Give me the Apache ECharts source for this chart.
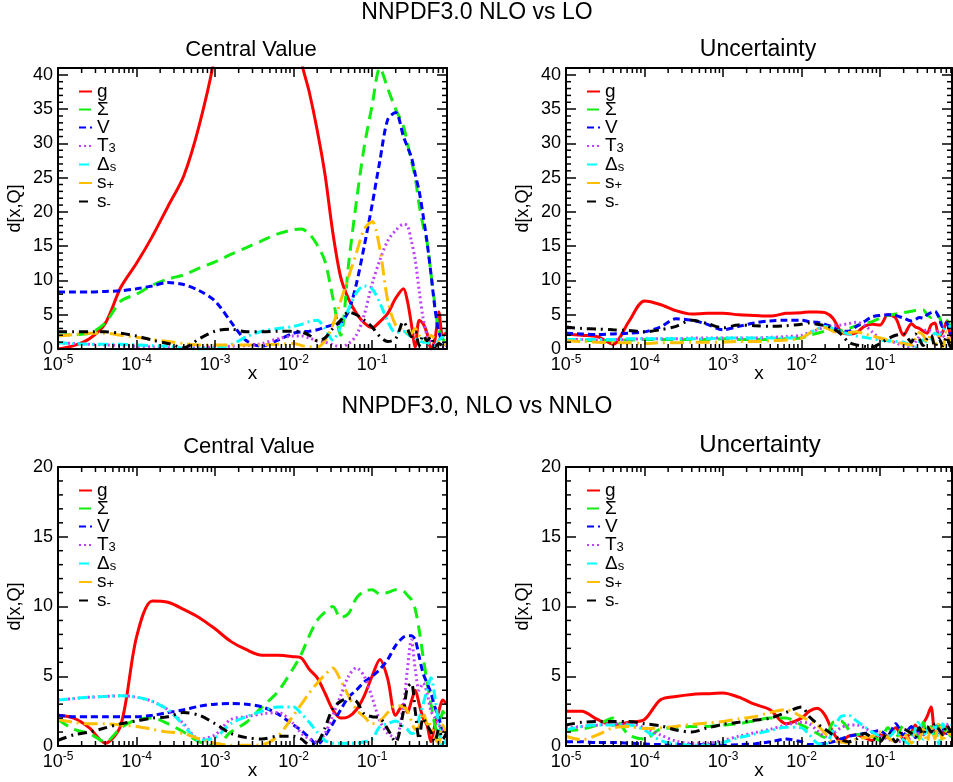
<!DOCTYPE html>
<html><head><meta charset="utf-8">
<script src="https://cdn.jsdelivr.net/npm/echarts@6/dist/echarts.min.js"></script>
<style>html,body{margin:0;padding:0;background:#fff}#c{width:953px;height:782px}</style>
</head><body><div id="c"></div>
<script>
// shared x grid (log-spaced sample points)
const X = [1e-5,1.585e-5,2.512e-5,3.981e-5,6.31e-5,1e-4,1.585e-4,2.512e-4,3.981e-4,6.31e-4,1e-3,1.585e-3,2.512e-3,3.981e-3,6.31e-3,0.01,0.01259,0.01585,0.01995,0.02512,0.03162,0.03981,0.05012,0.0631,0.07943,0.1,0.1259,0.1585,0.1995,0.2512,0.2818,0.3162,0.3548,0.3981,0.4467,0.5012,0.5623,0.631,0.7079,0.7943,0.8913];

// NNPDF3.0 NLO vs LO — Central Value
const LO_CV_g     = [0,0.5,1.5,3.7,9,12.5,16.4,20.8,25.2,32.7,43,60,70,75,70,52,42,37.5,32,25.5,17,10.5,7.3,5.2,3.8,3.1,4,5.2,7.4,8.8,7,3.7,0.3,4.2,3.7,2.3,0,1.3,5.4,1.8,2.5];
const LO_CV_Sigma = [2.0,2.1,2.3,3.8,7,8,9.3,10.2,10.8,11.8,12.7,13.8,14.8,15.8,16.8,17.4,17.5,16.8,15.2,12.8,7.5,2.0,12.3,21.5,29.5,35.5,41,38,35,32.5,30,27.5,25,21,18,15.6,11,6.5,2.8,1.5,1.0];
const LO_CV_V     = [8.3,8.3,8.3,8.4,8.5,8.8,9.2,9.7,9.4,8.5,7.0,4.0,1.2,0.4,1.3,2.3,2.5,2.6,2.8,3.2,3.5,3.8,5.5,9.5,15,21,27.5,33.5,34.5,31,29.5,28,25.5,23,19.5,15.6,11,6,2.5,1.0,0.5];
const LO_CV_T3    = [0.9,0.8,0.7,0.6,0.5,0.4,0.3,0.2,0.1,0.2,0.3,0.4,0.5,0.8,1.5,1.9,1.9,1.6,1.2,1.0,0.6,0.3,0.8,2.0,5.0,9.5,13,15.8,17.3,18.2,18.0,15.8,13,8.5,4.5,2,1.0,0.5,0.4,0.3,0.3];
const LO_CV_Ds    = [0.9,0.8,0.7,0.7,0.7,0.6,0.5,0.4,0.1,0.0,0.1,0.6,1.8,2.6,3.0,3.3,3.6,4.0,4.2,3.0,1.3,3.3,5.8,8.2,9.2,8.8,6.7,4.0,2.4,2.6,2.2,1.8,1.5,1.2,1.0,1.0,0.6,0.4,1.3,1.8,2.8];
const LO_CV_sp    = [1.9,2.1,2.3,2.3,2.0,1.7,1.4,1.1,0.8,0.6,0.6,0.6,0.6,0.6,0.7,0.8,0.5,0.3,0.3,1.2,3.5,7.0,10.5,14,17.5,18.6,14.5,7.0,3.5,2.8,2.5,2.3,3.0,2.0,1.5,1.2,2.0,1.5,1.0,0.8,0.6];
const LO_CV_sm    = [2.5,2.5,2.5,2.5,2.3,1.9,1.3,0.8,0.2,1.5,2.6,2.9,2.5,2.5,2.6,2.6,2.5,2.0,1.2,1.6,3.0,4.2,5.4,5.0,4.2,3.2,1.8,1.1,1.5,4.0,3.0,1.8,2.5,0.5,2.0,1.2,1.8,0.3,0.8,0.5,1.0];

// NNPDF3.0 NLO vs LO — Uncertainty
const LO_UN_g     = [2.2,2.0,1.8,0.7,4.0,7.0,6.5,5.6,5.1,5.2,5.2,5.0,4.9,4.8,5.2,5.3,5.4,5.4,5.3,4.5,2.6,2.2,2.4,3.3,3.6,3.5,5.0,4.5,2.0,3.7,3.2,3.0,2.6,2.3,3.5,3.8,1.8,2.5,4.0,2.0,1.5];
const LO_UN_Sigma = [1.3,1.3,1.2,1.3,1.3,1.4,1.4,1.4,1.4,1.4,1.5,1.4,1.4,1.4,1.5,1.6,2.0,2.3,2.6,2.7,2.7,3.0,3.4,3.7,4.0,4.5,4.9,5.1,5.3,5.5,5.6,5.6,5.7,5.0,4.6,5.2,4.8,3.5,4.2,3.2,2.5];
const LO_UN_V     = [2.3,2.2,2.1,2.2,2.3,2.5,3.2,4.4,4.2,3.6,2.8,3.3,3.8,4.1,4.2,4.2,4.0,3.9,3.6,3.2,2.6,2.6,3.3,4.0,4.7,4.9,5.0,4.9,4.5,4.1,4.3,4.6,4.5,5.0,5.3,5.5,4.6,3.2,3.8,2.2,2.5];
const LO_UN_T3    = [1.4,1.4,1.3,1.4,1.4,1.5,1.5,1.5,1.6,1.6,1.6,1.6,1.6,1.7,1.8,2.0,2.4,2.8,3.2,3.4,3.5,3.7,3.9,3.5,2.5,1.5,1.2,0.9,0.5,0.3,1.0,1.8,2.5,2.8,2.6,2.2,2.8,2.0,1.5,2.0,1.2];
const LO_UN_Ds    = [1.4,1.4,1.4,1.4,1.5,1.5,1.5,1.5,1.5,1.5,1.6,1.6,1.6,1.6,1.6,1.7,2.3,2.9,3.3,3.0,2.5,2.2,1.9,1.7,1.5,1.3,1.2,1.1,1.0,0.4,0.3,1.0,1.3,1.0,1.5,2.3,2.0,2.8,3.2,3.3,3.0];
const LO_UN_sp    = [1.2,1.1,1.0,0.9,0.9,0.8,0.9,0.9,1.0,1.0,1.0,1.1,1.1,1.2,1.3,1.6,2.3,2.9,3.1,2.6,2.3,2.4,2.5,2.2,1.9,1.6,1.3,1.0,0.8,0.6,1.5,2.4,2.0,1.0,2.2,0.5,1.8,0.3,2.5,1.0,2.2];
const LO_UN_sm    = [3.2,3.0,2.9,2.8,2.7,2.5,2.8,3.3,4.2,3.7,3.1,3.5,3.4,3.3,3.4,3.6,3.8,3.6,3.4,3.0,2.2,1.0,0.6,0.4,0.3,0.8,1.5,2.0,2.2,1.0,2.2,1.5,0.5,1.5,2.0,0.3,1.5,0.5,1.8,0.3,0.8];

// NNPDF3.0, NLO vs NNLO — Central Value
const NN_CV_g     = [2.2,2.0,1.3,0.2,1.5,7.8,10.4,10.3,9.8,9.2,8.4,7.5,6.9,6.5,6.5,6.4,6.3,5.5,4.9,3.8,2.6,2.0,2.1,2.6,3.6,5.0,6.2,4.8,2.2,3.0,2.4,3.2,4.0,3.0,2.0,1.5,0.3,1.5,2.5,3.3,3.0];
const NN_CV_Sigma = [1.9,1.2,0.9,0.3,1.3,1.9,2.0,1.6,1.0,0.3,0.0,1.0,1.7,2.8,3.9,5.6,6.6,7.9,9.0,9.6,10.0,9.2,9.5,10.6,11.1,11.2,10.9,11.0,11.2,11.1,10.8,10.5,9.8,8.3,6.4,4.6,3.0,1.5,0.6,2.5,2.0];
const NN_CV_V     = [2.2,2.1,2.1,2.1,2.1,2.1,2.2,2.4,2.6,2.85,3.0,3.05,3.0,2.8,2.3,1.5,1.1,0.6,0.1,0.7,1.6,2.6,3.5,4.0,4.6,5.0,5.5,6.2,7.2,7.8,7.9,7.9,7.6,6.4,5.2,4.5,3.8,2.8,2.0,1.2,1.0];
const NN_CV_T3    = [3.3,3.4,3.5,3.55,3.6,3.5,3.2,2.6,1.6,0.5,0.8,1.9,2.1,2.3,2.4,1.6,0.9,0.5,0.3,0.9,2.2,3.6,5.0,5.6,5.0,3.5,1.8,0.9,0.6,3.0,5.5,7.6,5.5,4.0,4.5,3.8,2.5,2.0,1.5,1.2,1.0];
const NN_CV_Ds    = [3.3,3.4,3.5,3.55,3.6,3.5,3.2,2.6,1.5,0.4,0.6,1.6,2.1,2.5,2.8,2.8,2.3,1.7,1.0,0.4,0.2,0.2,0.2,0.2,0.3,0.5,1.4,1.6,1.8,1.4,1.2,0.9,1.0,2.0,3.0,4.0,4.9,3.5,1.5,0.0,0.5];
const NN_CV_sp    = [1.9,1.7,1.6,1.6,1.5,1.4,1.2,1.0,0.9,0.5,0.2,0.05,0.05,0.1,0.7,2.2,3.0,3.8,4.5,5.1,5.6,4.7,3.6,2.6,2.1,1.6,1.8,2.4,2.9,2.8,2.5,1.8,1.2,1.4,2.4,1.6,1.5,0.6,0.2,1.5,0.8];
const NN_CV_sm    = [0.4,0.8,1.0,1.3,1.6,1.8,2.0,2.1,2.4,2.2,1.6,0.9,0.6,0.5,0.7,0.7,0.5,0.1,0.2,1.3,2.7,3.2,3.4,3.2,2.3,2.1,2.0,1.2,0.3,2.5,4.2,4.5,2.5,0.5,2.0,1.5,1.0,0.3,1.2,0.5,1.0];

// NNPDF3.0, NLO vs NNLO — Uncertainty
const NN_UN_g     = [2.5,2.5,1.9,1.5,1.7,1.9,3.3,3.55,3.7,3.75,3.8,3.5,3.0,2.6,1.6,2.0,2.5,2.7,2.2,1.0,0.3,0.7,0.8,0.6,0.4,0.8,0.6,1.3,0.5,1.0,1.5,0.8,1.6,2.1,2.8,0.9,1.5,0.8,1.4,1.0,1.3];
const NN_UN_Sigma = [1.1,1.2,1.5,2.0,0.8,0.5,1.2,1.3,1.4,1.4,1.5,1.6,1.8,2.0,2.0,1.5,1.2,0.9,0.6,1.7,1.8,1.2,0.8,0.9,0.7,0.4,1.3,0.6,1.5,0.8,1.2,0.5,1.7,1.0,1.4,0.6,1.5,1.0,1.2,0.7,1.3];
const NN_UN_V     = [0.3,0.3,0.25,0.25,0.2,0.15,0.1,0.1,0.1,0.1,0.05,0.1,0.15,0.3,0.5,0.3,0.1,0.1,0.2,0.3,0.5,0.7,0.8,0.9,1.0,1.1,0.7,1.6,0.8,1.4,0.6,1.2,0.8,1.3,1.0,1.5,0.8,1.2,0.9,1.4,1.1];
const NN_UN_T3    = [1.3,1.4,1.5,1.6,1.6,1.3,0.8,0.35,0.2,0.2,0.4,0.7,0.95,1.2,1.5,1.7,1.6,1.1,0.7,0.9,1.3,1.5,1.5,1.3,1.0,0.7,0.5,0.3,0.4,0.6,0.8,0.9,0.8,1.0,1.2,1.1,1.3,1.2,1.5,1.6,1.7];
const NN_UN_Ds    = [1.15,1.4,1.5,1.5,1.5,1.15,0.4,0.15,0.05,0.05,0.25,0.6,0.85,1.1,1.35,1.3,0.8,0.2,0.1,1.1,2.1,2.2,1.8,1.4,1.0,0.7,0.6,1.1,0.4,0.1,1.2,1.8,0.5,1.2,0.8,1.5,0.1,1.6,1.1,1.4,1.7];
const NN_UN_sp    = [0.7,0.45,0.8,1.3,1.4,1.25,1.3,1.4,1.55,1.65,1.75,1.95,2.1,2.4,2.6,2.1,1.8,1.5,0.9,0.3,0.3,0.2,0.5,0.6,0.7,1.0,0.6,0.3,0.9,0.2,0.8,0.5,1.2,0.3,1.5,0.5,1.7,0.3,1.0,0.8,1.4];
const NN_UN_sm    = [1.5,1.7,1.75,1.75,1.75,1.6,1.45,1.15,1.0,1.3,1.55,1.7,1.85,2.0,2.4,2.8,2.1,1.6,1.2,0.8,0.45,0.3,0.5,0.9,0.6,0.3,1.0,0.3,1.2,0.9,0.6,1.3,0.8,1.4,1.0,1.6,1.2,0.8,1.5,1.1,1.4];

const NAMES = ['g','Σ','V','T3','Δs','s+','s-'];
// frame minor-tick positions
const X_MINOR = [2e-5,3e-5,4e-5,5e-5,6e-5,7e-5,8e-5,9e-5,2e-4,3e-4,4e-4,5e-4,6e-4,7e-4,8e-4,9e-4,2e-3,3e-3,4e-3,5e-3,6e-3,7e-3,8e-3,9e-3,0.02,0.03,0.04,0.05,0.06,0.07,0.08,0.09,0.2,0.3,0.4,0.5,0.6,0.7,0.8,0.9];

const FONT = '"Liberation Sans", Arial, Helvetica, sans-serif';
const STYLES = [
  {color:'#ff0000', type:'solid'},
  {color:'#11ee11', type:[12,7]},
  {color:'#0000ff', type:[7,4]},
  {color:'#bf40ff', type:[2,3]},
  {color:'#00ffff', type:[10,4,2,4]},
  {color:'#ffbf00', type:[14,5,2,5]},
  {color:'#000000', type:[9,5,2,5]}
];

const PANELS = [
  {left:58,  top:68,  width:389, height:281, ymax:41, xmax:0.9,   data:[LO_CV_g,LO_CV_Sigma,LO_CV_V,LO_CV_T3,LO_CV_Ds,LO_CV_sp,LO_CV_sm]},
  {left:566, top:68,  width:386, height:281, ymax:41, xmax:0.826, data:[LO_UN_g,LO_UN_Sigma,LO_UN_V,LO_UN_T3,LO_UN_Ds,LO_UN_sp,LO_UN_sm]},
  {left:58,  top:467, width:389, height:279, ymax:20, xmax:0.9,   data:[NN_CV_g,NN_CV_Sigma,NN_CV_V,NN_CV_T3,NN_CV_Ds,NN_CV_sp,NN_CV_sm]},
  {left:566, top:467, width:386, height:279, ymax:20, xmax:0.826, data:[NN_UN_g,NN_UN_Sigma,NN_UN_V,NN_UN_T3,NN_UN_Ds,NN_UN_sp,NN_UN_sm]}
];

const LEG_FMT = {'g':'g','Σ':'Σ','V':'V','T3':'T{sub|3}','Δs':'Δ{sub|s}','s+':'s{sub|+}','s-':'s{sub|-}'};
const MAJ = 9, MIN = 5;
const TICK = {color:'#000', width:1.5};

const grids=[], xAxes=[], yAxes=[], legends=[], series=[];
PANELS.forEach((p, gi) => {
  grids.push({left:p.left, top:p.top, width:p.width, height:p.height, containLabel:false});
  ['bottom','top'].forEach(pos => {
    const main = pos === 'bottom';
    xAxes.push(Object.assign({
      gridIndex:gi, type:'log', logBase:10, min:1e-5, max:p.xmax, position:pos, z:5,
      axisLine:{show:true, onZero:false, lineStyle:{color:'#000', width:2}},
      axisTick:{show:true, inside:true, length:MAJ, lineStyle:TICK},
      minorTick:{show:false}, splitLine:{show:false}
    }, main ? {
      axisLabel:{
        show:true, showMaxLabel:false, showMinLabel:true, margin:5, color:'#000', fontFamily:FONT,
        formatter: v => '{b|10}{e|' + Math.round(Math.log10(v)) + '}',
        rich:{ b:{fontSize:18, fontFamily:FONT, color:'#000', lineHeight:22},
               e:{fontSize:12, fontFamily:FONT, color:'#000', verticalAlign:'top', lineHeight:12} }
      },
      name:'x', nameLocation:'middle', nameGap:15, nameMoveOverlap:false,
      nameTextStyle:{fontSize:19, fontFamily:FONT, color:'#000'}
    } : {axisLabel:{show:false}}));
  });
  ['left','right'].forEach(pos => {
    const main = pos === 'left';
    yAxes.push(Object.assign({
      gridIndex:gi, type:'value', min:0, max:p.ymax, interval:5, position:pos, z:5,
      axisLine:{show:true, onZero:false, lineStyle:{color:'#000', width:2}},
      axisTick:{show:true, inside:true, length:MAJ + 1, lineStyle:TICK},
      minorTick:{show:false}, splitLine:{show:false}
    }, main ? {
      axisLabel:{show:true, showMaxLabel: p.ymax % 5 === 0, fontSize:18, fontFamily:FONT, color:'#000', margin:5},
      name:'d[x,Q]', nameLocation:'middle', nameGap:34,
      nameTextStyle:{fontSize:18, fontFamily:FONT, color:'#000'}
    } : {axisLabel:{show:false}}));
  });
  legends.push({
    data:NAMES, orient:'vertical', left:p.left + 20, top:p.top + 14,
    itemWidth:13, itemHeight:10, itemGap:-1, padding:0, selectedMode:false,
    itemStyle:{opacity:0},
    formatter: n => LEG_FMT[n],
    textStyle:{fontSize:19, fontFamily:FONT, color:'#000', lineHeight:18,
      rich:{ sub:{fontSize:13, fontFamily:FONT, color:'#000', verticalAlign:'bottom', lineHeight:12, padding:[6,0,0,0]} } }
  });
  p.data.forEach((arr, si) => {
    const st = STYLES[si];
    series.push({
      name:NAMES[si], type:'line', xAxisIndex:gi*2, yAxisIndex:gi*2,
      data:X.map((x, i) => [x, arr[i]]),
      showSymbol:false, symbol:'none', smooth:0.3, clip:true, z:3,
      lineStyle:{color:st.color, width:3, type:st.type},
      itemStyle:{color:st.color}
    });
  });
});

const titles = [
  {text:'NNPDF3.0 NLO vs LO', left:477, top:1, size:23},
  {text:'Central Value', left:251, top:39, size:22},
  {text:'Uncertainty', left:758, top:38, size:23},
  {text:'NNPDF3.0, NLO vs NNLO', left:477, top:395, size:23},
  {text:'Central Value', left:249, top:436, size:22},
  {text:'Uncertainty', left:760, top:433, size:24}
].map(t => ({
  text:t.text, left:t.left, top:t.top, textAlign:'center', padding:0,
  textStyle:{fontSize:t.size, fontWeight:'normal', fontFamily:FONT, color:'#000'}
}));

const chart = echarts.init(document.getElementById('c'), null, {renderer:'canvas'});
chart.setOption({
  animation:false, backgroundColor:'#fff',
  textStyle:{fontFamily:FONT},
  title:titles, grid:grids, xAxis:xAxes, yAxis:yAxes, legend:legends, series:series
});

// minor frame ticks (log 2..9 on x, unit steps on y), positioned through each panel's axis scales
const ticks = [];
function tick(x1, y1, x2, y2) {
  if (![x1, y1, x2, y2].every(isFinite)) return;
  ticks.push({type:'line', silent:true, z:100,
    shape:{x1:x1, y1:y1, x2:x2, y2:y2}, style:{stroke:'#000', lineWidth:1.5}});
}
PANELS.forEach((p, gi) => {
  const xa = {xAxisIndex:gi*2}, ya = {yAxisIndex:gi*2};
  const yB = chart.convertToPixel(ya, 0), yT = chart.convertToPixel(ya, p.ymax);
  const xL = chart.convertToPixel(xa, 1e-5), xR = chart.convertToPixel(xa, p.xmax);
  X_MINOR.forEach(v => {
    if (v >= p.xmax) return;
    const px = chart.convertToPixel(xa, v);
    tick(px, yB, px, yB - MIN);
    tick(px, yT, px, yT + MIN);
  });
  for (let v = 1; v < p.ymax; v++) {
    if (v % 5 === 0) continue;
    const py = chart.convertToPixel(ya, v);
    tick(xL, py, xL + MIN, py);
    tick(xR, py, xR - MIN, py);
  }
});
chart.setOption({graphic:ticks});
</script></body></html>
